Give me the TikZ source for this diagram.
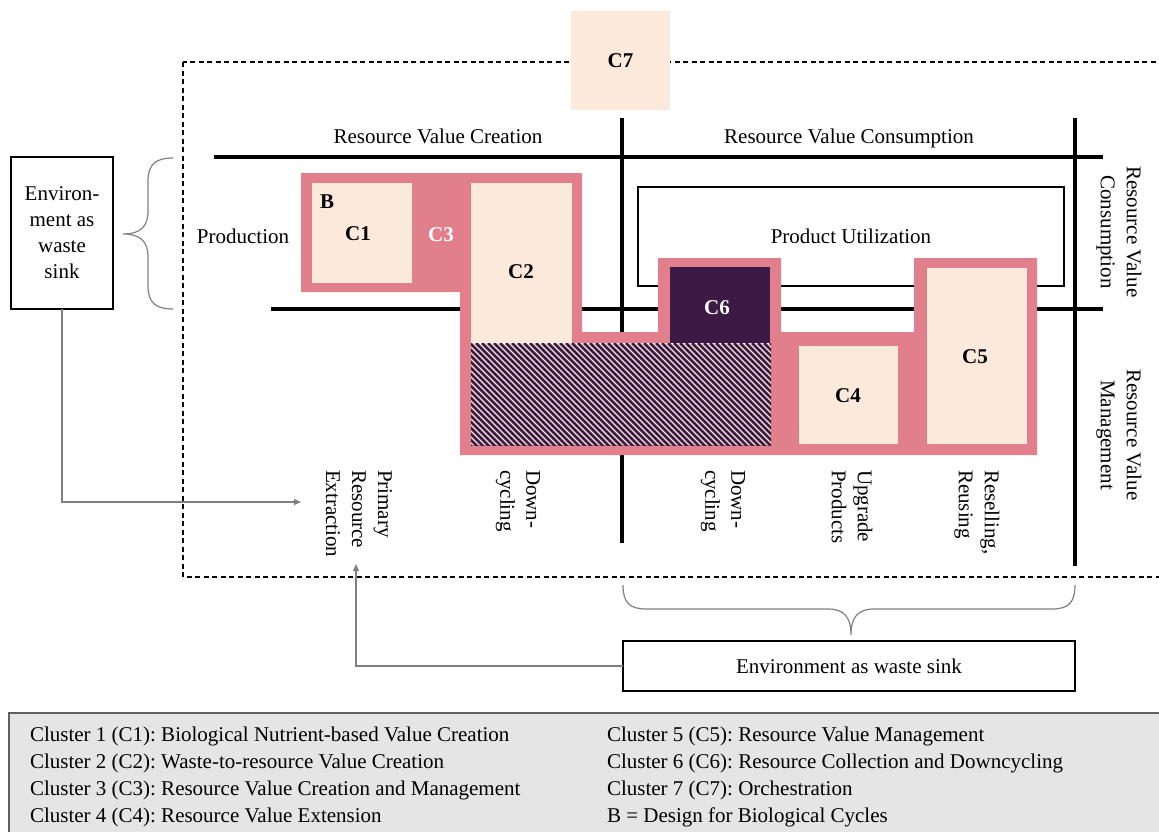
\documentclass[tikz,border=0pt]{standalone}
\usepackage{fontspec}
\setmainfont{Liberation Serif}
\usetikzlibrary{arrows.meta}

\definecolor{rosepink}{RGB}{226,127,141}
\definecolor{peach}{RGB}{251,234,219}
\definecolor{plum}{RGB}{61,26,69}
\definecolor{legendgray}{RGB}{230,229,229}
\definecolor{legendedge}{RGB}{95,95,95}
\definecolor{linegray}{RGB}{128,128,128}

\begin{document}
\frenchspacing
\begin{tikzpicture}[x=1pt,y=-1pt,
  every node/.style={font=\fontsize{21}{26}\selectfont, inner sep=0pt, outer sep=0pt},
  axisline/.style={line width=3.6pt},
  framebox/.style={draw, line width=1.6pt},
  cell/.style={fill=peach},
  clabel/.style={font=\fontsize{21}{26}\selectfont\bfseries},
  vlabel/.style={rotate=-90, anchor=west, align=left},
  sidelabel/.style={rotate=-90, align=center},
  feed/.style={draw=linegray, line width=1.3pt, -{Triangle[length=7pt,width=6pt]}},
  bracestroke/.style={draw=linegray, line width=1.2pt},
  legendtext/.style={anchor=base west},
]
\useasboundingbox (0,0) rectangle (1159,831);

% system boundary (dashed)
\draw[dashed, dash pattern=on 5pt off 3.5pt, line width=1.3pt] (183,62) rectangle (1170,577);

% orchestration cluster
\node[cell, minimum width=99pt, minimum height=99pt] (c7) at (620.5,60.5) {};
\node[clabel] (lc7) at (620.5,61) {C7};

% axes of the value matrix
\draw[axisline] (214,157) -- (1103,157);
\draw[axisline] (271,309) -- (1103,309);
\draw[axisline] (622,118) -- (622,543);
\draw[axisline] (1075,118) -- (1075,566);

% column and row headings
\node[anchor=base] (hcre) at (438,143) {Resource Value Creation};
\node[anchor=base] (hcon) at (849,143) {Resource Value Consumption};
\node[anchor=base] (hprod) at (243,243) {Production};
\node[sidelabel] (rcon) at (1119,232) {Resource Value\\Consumption};
\node[sidelabel] (rman) at (1119,435) {Resource Value\\Management};

% product utilization frame
\node[draw, line width=1.5pt, minimum width=426pt, minimum height=99pt] (pu) at (851,236.5) {Product Utilization};

% cluster 3 envelope
\fill[rosepink] (301,173) -- (582,173) -- (582,332) -- (658,332) -- (658,258)
  -- (781,258) -- (781,332) -- (914,332) -- (914,258) -- (1037,258)
  -- (1037,455) -- (460,455) -- (460,292) -- (301,292) -- cycle;
\node[clabel, text=white] (lc3) at (441,235) {C3};

% clusters inside the envelope
\node[cell, minimum width=100pt, minimum height=100pt] (c1) at (362,233) {};
\node[clabel] (lb) at (327,202) {B};
\node[clabel] (lc1) at (358,234) {C1};

\node[cell, minimum width=101pt, minimum height=160pt] (c2) at (521.5,263) {};
\node[clabel] (lc2) at (521,272) {C2};

% downcycling overlap (hatched)
\begin{scope}
  \clip (471,343) rectangle (771,445);
  \fill[peach] (471,343) rectangle (771,445);
  \foreach \k in {0,...,72}
    \draw[plum, line width=2.5pt] ({362+\k*6},343) -- ++(110,110);
\end{scope}

\node[fill=plum, minimum width=100pt, minimum height=76pt] (c6) at (720,305) {};
\node[clabel, text=white] (lc6) at (717,308) {C6};

\node[cell, minimum width=99pt, minimum height=98pt] (c4) at (848.5,395) {};
\node[clabel] (lc4) at (848,396) {C4};

\node[cell, minimum width=100pt, minimum height=176pt] (c5) at (977,356) {};
\node[clabel] (lc5) at (975,357) {C5};

% activity labels
\node[vlabel] (pre) at (359,470) {Primary\\Resource\\Extraction};
\node[vlabel] (dc1) at (518,470) {Down-\\cycling};
\node[vlabel] (dc2) at (723,470) {Down-\\cycling};
\node[vlabel] (upg) at (852,470) {Upgrade\\Products};
\node[vlabel] (res) at (977,470) {Reselling,\\Reusing};

% environment as waste sink
\node[framebox, minimum width=102pt, minimum height=152pt, align=center] (envL) at (62,233)
  {Environ-\\ment as\\waste\\sink};
\node[framebox, minimum width=452pt, minimum height=50pt] (envB) at (849,666)
  {Environment as waste sink};

% braces
\draw[bracestroke] (173,158) .. controls (156,158) and (148,164) .. (148,181)
  -- (148,211) .. controls (148,227) and (140,234) .. (123,234)
  .. controls (140,234) and (148,241) .. (148,257)
  -- (148,286) .. controls (148,303) and (156,309) .. (173,309);
\draw[bracestroke] (623,585) .. controls (623,602) and (629,609) .. (646,609)
  -- (828,609) .. controls (844,609) and (851,617) .. (851,635)
  .. controls (851,617) and (858,609) .. (874,609)
  -- (1052,609) .. controls (1069,609) and (1075,602) .. (1075,585);

% flows back into primary resource extraction
\coordinate (tipA) at (301,502);
\coordinate (tipB) at (356,564);
\draw[feed] (envL.south) |- (tipA);
\draw[feed] (envB.west) -| (tipB);

% legend
\draw[draw=legendedge, fill=legendgray, line width=1.8pt] (9,713) rectangle (1180,860);
\node[legendtext] (l1) at (30,741) {Cluster 1 (C1): Biological Nutrient-based Value Creation};
\node[legendtext] (l2) at (30,768) {Cluster 2 (C2): Waste-to-resource Value Creation};
\node[legendtext] (l3) at (30,795) {Cluster 3 (C3): Resource Value Creation and Management};
\node[legendtext] (l4) at (30,822) {Cluster 4 (C4): Resource Value Extension};
\node[legendtext] (l5) at (607,741) {Cluster 5 (C5): Resource Value Management};
\node[legendtext] (l6) at (607,768) {Cluster 6 (C6): Resource Collection and Downcycling};
\node[legendtext] (l7) at (607,795) {Cluster 7 (C7): Orchestration};
\node[legendtext] (l8) at (607,822) {B = Design for Biological Cycles};
\end{tikzpicture}
\end{document}
